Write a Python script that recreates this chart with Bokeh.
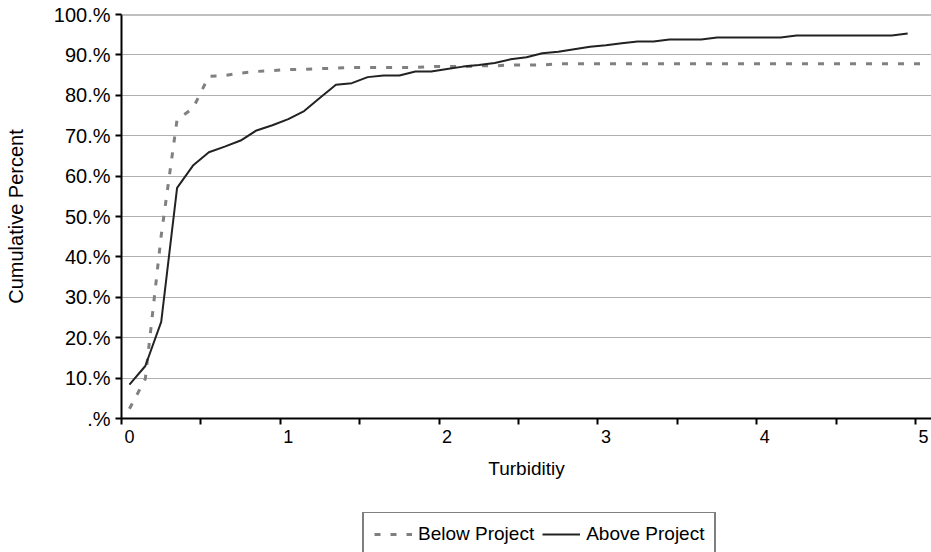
from bokeh.plotting import figure
from bokeh.layouts import column
from bokeh.models import (Range1d, FixedTicker, CustomJSTickFormatter, Legend,
                          LegendItem, Span)
from bokeh.embed import file_html
from bokeh.resources import INLINE

# ---- data ----
turbidity = [0.0, 0.1, 0.2, 0.3, 0.4, 0.5, 0.6, 0.7, 0.8, 0.9,
             1.0, 1.1, 1.2, 1.3, 1.4, 1.5, 1.6, 1.7, 1.8, 1.9,
             2.0, 2.1, 2.2, 2.3, 2.4, 2.5, 2.6, 2.7, 2.8, 2.9,
             3.0, 3.1, 3.2, 3.3, 3.4, 3.5, 3.6, 3.7, 3.8, 3.9,
             4.0, 4.1, 4.2, 4.3, 4.4, 4.5, 4.6, 4.7, 4.8, 4.9,
             5.0]

below_project = [2.4, 9.8, 45.3, 74.0, 76.8, 84.7, 84.9, 85.5, 85.9, 86.1,
                 86.4, 86.4, 86.6, 86.7, 86.9, 86.9, 86.9, 86.9, 86.9, 87.1,
                 87.1, 87.1, 87.3, 87.3, 87.5, 87.5, 87.5, 87.8, 87.8, 87.8,
                 87.8, 87.8, 87.8, 87.8, 87.8, 87.8, 87.8, 87.8, 87.8, 87.8,
                 87.8, 87.8, 87.8, 87.8, 87.8, 87.8, 87.8, 87.8, 87.8, 87.8,
                 87.8]

above_project = [8.4, 13.0, 23.9, 57.1, 62.6, 65.9, 67.3, 68.8, 71.3, 72.6,
                 74.1, 76.1, 79.4, 82.6, 83.0, 84.5, 84.9, 84.9, 85.9, 85.9,
                 86.5, 87.1, 87.5, 88.0, 88.9, 89.4, 90.4, 90.8, 91.4, 92.0,
                 92.4, 92.9, 93.3, 93.3, 93.8, 93.8, 93.8, 94.3, 94.3, 94.3,
                 94.3, 94.3, 94.8, 94.8, 94.8, 94.8, 94.8, 94.8, 94.8, 95.3]

series_names = ["Below Project", "Above Project"]
x_tick_labels = [0, 1, 2, 3, 4, 5]
x_tick_marks = [-0.05, 0.45, 0.95, 1.45, 1.95, 2.45, 2.95, 3.45, 3.95, 4.45, 4.95]
y_ticks = [0, 10, 20, 30, 40, 50, 60, 70, 80, 90, 100]
grid_ticks = [10, 20, 30, 40, 50, 60, 70, 80, 90]

FONT = "Liberation Sans"
BELOW_STYLE = dict(line_color="#808080", line_width=3, line_dash="6 10")
ABOVE_STYLE = dict(line_color="#222222", line_width=2)

p = figure(width=931, height=512, output_backend="svg", toolbar_location=None,
           x_range=Range1d(-0.05, 5.05), y_range=Range1d(0, 100),
           min_border_left=121, min_border_right=0, min_border_top=14,
           min_border_bottom=94)
p.outline_line_color = None
p.background_fill_color = "white"
p.border_fill_color = "white"

# grid
p.xgrid.visible = False
p.ygrid.ticker = FixedTicker(ticks=grid_ticks)
p.ygrid.grid_line_color = "#606060"
p.ygrid.grid_line_dash = "1 1"
p.ygrid.grid_line_width = 1
p.add_layout(Span(location=100, dimension="width", line_color="#808080",
                  line_width=2))

# x axis
xa = p.xaxis[0]
xa.ticker = FixedTicker(ticks=x_tick_labels, minor_ticks=x_tick_marks)
xa.major_tick_line_color = None
xa.major_tick_out = 0
xa.major_tick_in = 0
xa.minor_tick_line_color = "black"
xa.minor_tick_line_width = 2
xa.minor_tick_out = 6
xa.minor_tick_in = 0
xa.axis_line_color = "black"
xa.axis_line_width = 2
xa.major_label_standoff = 5
xa.major_label_text_font = FONT
xa.major_label_text_font_size = "18px"
xa.major_label_text_color = "black"
xa.axis_label = "Turbiditiy"
xa.axis_label_text_font = FONT
xa.axis_label_text_font_size = "19px"
xa.axis_label_text_font_style = "normal"
xa.axis_label_text_color = "black"
xa.axis_label_standoff = 12

# y axis
ya = p.yaxis[0]
ya.ticker = FixedTicker(ticks=y_ticks, minor_ticks=[])
ya.formatter = CustomJSTickFormatter(
    code="return (tick == 0 ? '' : String(Math.round(tick))) + '.%';")
ya.major_tick_line_color = "black"
ya.major_tick_line_width = 2
ya.major_tick_out = 6
ya.major_tick_in = 0
ya.minor_tick_line_color = None
ya.axis_line_color = "black"
ya.axis_line_width = 2
ya.major_label_standoff = 5
ya.major_label_text_font = FONT
ya.major_label_text_font_size = "20px"
ya.major_label_text_color = "black"
ya.axis_label = "Cumulative Percent"
ya.axis_label_text_font = FONT
ya.axis_label_text_font_size = "20px"
ya.axis_label_text_font_style = "normal"
ya.axis_label_text_color = "black"
ya.axis_label_standoff = 24

# series
p.line(x=turbidity, y=below_project, **BELOW_STYLE)
p.line(x=turbidity[:len(above_project)], y=above_project, **ABOVE_STYLE)

# legend strip under the chart (series drawn again out of view, only to
# provide the legend's line samples)
p2 = figure(width=931, height=40, output_backend="svg", toolbar_location=None,
            x_range=Range1d(100, 101), y_range=Range1d(1000, 1001),
            x_axis_location=None, y_axis_location=None,
            min_border_left=0, min_border_right=0, min_border_top=0,
            min_border_bottom=0)
p2.grid.visible = False
p2.outline_line_color = None
p2.background_fill_color = "white"
p2.border_fill_color = "white"
lr_below = p2.line(x=turbidity, y=below_project, **BELOW_STYLE)
lr_above = p2.line(x=turbidity[:len(above_project)], y=above_project,
                   **ABOVE_STYLE)

legend = Legend(items=[LegendItem(label=series_names[0], renderers=[lr_below]),
                       LegendItem(label=series_names[1], renderers=[lr_above])],
                orientation="horizontal", location=(241, -5),
                border_line_color="black", border_line_width=2,
                background_fill_color="white", background_fill_alpha=1,
                label_text_font=FONT, label_text_font_size="19px",
                label_text_color="black",
                glyph_width=38, glyph_height=20, spacing=8, padding=10,
                margin=0, label_standoff=6)
p2.add_layout(legend)

layout = column(p, p2, spacing=0)
open("out.html", "w").write(file_html(layout, INLINE))
